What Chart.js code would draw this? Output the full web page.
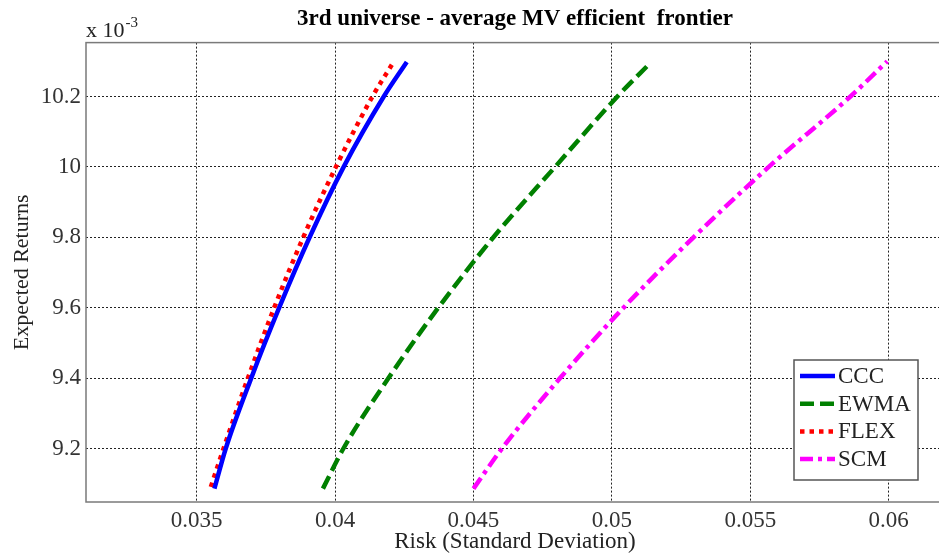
<!DOCTYPE html>
<html>
<head>
<meta charset="utf-8">
<script src="https://cdn.jsdelivr.net/npm/chart.js@4.4.1/dist/chart.umd.min.js"></script>
<style>
  html, body { margin: 0; padding: 0; background: #fff; overflow: hidden; }
  #wrap { width: 944px; height: 556px; }
</style>
</head>
<body>
<div id="wrap"><canvas id="chart-frontier" width="944" height="556"></canvas></div>
<script>
// returns are in units of 10^-3 (as on the axis)
var seriesNames = ["CCC", "EWMA", "FLEX", "SCM"];

var riskCCC = [0.03564, 0.03605, 0.03697, 0.03798, 0.03908, 0.04031, 0.04176, 0.04259];
var retCCC  = [9.086, 9.2, 9.4, 9.6, 9.8, 10.0, 10.2, 10.298];

var riskEWMA = [0.03956, 0.04030, 0.04193, 0.04373, 0.04572, 0.04795, 0.05020, 0.05141];
var retEWMA  = [9.086, 9.2, 9.4, 9.6, 9.8, 10.0, 10.2, 10.297];

var riskFLEX = [0.03551, 0.03597, 0.03685, 0.03780, 0.03885, 0.04003, 0.04135, 0.04205];
var retFLEX  = [9.091, 9.2, 9.4, 9.6, 9.8, 10.0, 10.2, 10.29];

var riskSCM = [0.04500, 0.04603, 0.04813, 0.05042, 0.05295, 0.05567, 0.05862, 0.05995];
var retSCM  = [9.086, 9.2, 9.4, 9.6, 9.8, 10.0, 10.2, 10.30];

var xTicks = [0.035, 0.04, 0.045, 0.05, 0.055, 0.06];
var yTicks = [9.2, 9.4, 9.6, 9.8, 10, 10.2];

var serif = "'Liberation Serif', 'Times New Roman', serif";

function pts(xs, ys) {
  var out = [];
  for (var i = 0; i < xs.length; i++) out.push({ x: xs[i], y: ys[i] });
  return out;
}

function mkSet(label, xs, ys, color, dash) {
  return {
    label: label,
    data: pts(xs, ys),
    showLine: true,
    borderColor: color,
    backgroundColor: color,
    borderWidth: 4.5,
    borderDash: dash,
    borderCapStyle: "butt",
    pointRadius: 0,
    cubicInterpolationMode: "monotone",
    fill: false,
  };
}

// box round the plot, the "x 10^-3" note and the legend in the lower right
var extras = {
  id: "extras",
  beforeDatasetsDraw: function (chart) {
    var a = chart.chartArea, ctx = chart.ctx;
    ctx.save();
    ctx.strokeStyle = "#7a7a7a";
    ctx.lineWidth = 1.5;
    ctx.setLineDash([]);
    ctx.strokeRect(a.left, a.top, a.right - a.left, a.bottom - a.top);
    ctx.restore();
  },
  afterDraw: function (chart) {
    var ctx = chart.ctx, a = chart.chartArea;
    ctx.save();
    ctx.fillStyle = "#222";
    ctx.textBaseline = "alphabetic";
    ctx.textAlign = "left";
    ctx.font = "22px " + serif;
    ctx.fillText("x 10", a.left, 37);
    var w = ctx.measureText("x 10").width;
    ctx.font = "15px " + serif;
    ctx.fillText("-3", a.left + w + 1, 27);

    // legend
    var bx = 794, by = 360, bw = 124, bh = 120;
    ctx.fillStyle = "#fff";
    ctx.fillRect(bx, by, bw, bh);
    ctx.strokeStyle = "#555";
    ctx.lineWidth = 1.5;
    ctx.setLineDash([]);
    ctx.strokeRect(bx, by, bw, bh);
    chart.data.datasets.forEach(function (ds, i) {
      var y = by + 16 + i * 27.7;
      ctx.strokeStyle = ds.borderColor;
      ctx.lineWidth = 4.5;
      ctx.setLineDash(ds.borderDash || []);
      ctx.beginPath();
      ctx.moveTo(bx + 6, y);
      ctx.lineTo(bx + 41, y);
      ctx.stroke();
      ctx.setLineDash([]);
      ctx.fillStyle = "#222";
      ctx.font = "23px " + serif;
      ctx.textBaseline = "middle";
      ctx.fillText(ds.label, bx + 44, y + 1);
    });
    ctx.restore();
  },
};

var ctx1 = document.getElementById("chart-frontier").getContext("2d");
var chart1 = new Chart(ctx1, {
  type: "scatter",
  data: {
    datasets: [
      mkSet(seriesNames[0], riskCCC, retCCC, "#0000ff", []),
      mkSet(seriesNames[1], riskEWMA, retEWMA, "#008000", [14, 6]),
      mkSet(seriesNames[2], riskFLEX, retFLEX, "#ff0000", [4.5, 5]),
      mkSet(seriesNames[3], riskSCM, retSCM, "#ff00ff", [13, 5, 4, 5]),
    ],
  },
  options: {
    responsive: false,
    animation: false,
    layout: { padding: 0 },
    plugins: {
      legend: { display: false },
      tooltip: { enabled: false },
      title: {
        display: true,
        text: "3rd universe - average MV efficient  frontier",
        fullSize: false,
        color: "#000",
        font: { family: serif, size: 23, weight: "bold", lineHeight: 1.2 },
        padding: { top: 5, bottom: 10 },
      },
    },
    scales: {
      x: {
        type: "linear",
        min: 0.031,
        max: 0.062,
        afterFit: function (s) { s.height = 54; },
        afterBuildTicks: function (s) {
          s.ticks = xTicks.map(function (v) { return { value: v }; });
        },
        border: { display: false, dash: [2, 2] },
        grid: { color: "#222", lineWidth: 1, drawTicks: false },
        ticks: {
          color: "#333",
          padding: 5,
          font: { family: serif, size: 23 },
          callback: function (v) { return String(+v.toFixed(4)); },
        },
        title: {
          display: true,
          text: "Risk (Standard Deviation)",
          color: "#222",
          font: { family: serif, size: 23 },
          padding: { top: 0, bottom: 0 },
        },
      },
      y: {
        type: "linear",
        min: 9.048,
        max: 10.353,
        afterFit: function (s) { s.width = 86; },
        afterBuildTicks: function (s) {
          s.ticks = yTicks.map(function (v) { return { value: v }; });
        },
        border: { display: false, dash: [2, 2] },
        grid: { color: "#222", lineWidth: 1, drawTicks: false },
        ticks: {
          color: "#333",
          padding: 5,
          font: { family: serif, size: 23 },
          callback: function (v) { return String(Math.round(v * 10) / 10); },
        },
        title: {
          display: true,
          text: "Expected Returns",
          color: "#222",
          font: { family: serif, size: 22 },
          padding: { top: 9, bottom: 0 },
        },
      },
    },
  },
  plugins: [extras],
});
</script>
</body>
</html>
